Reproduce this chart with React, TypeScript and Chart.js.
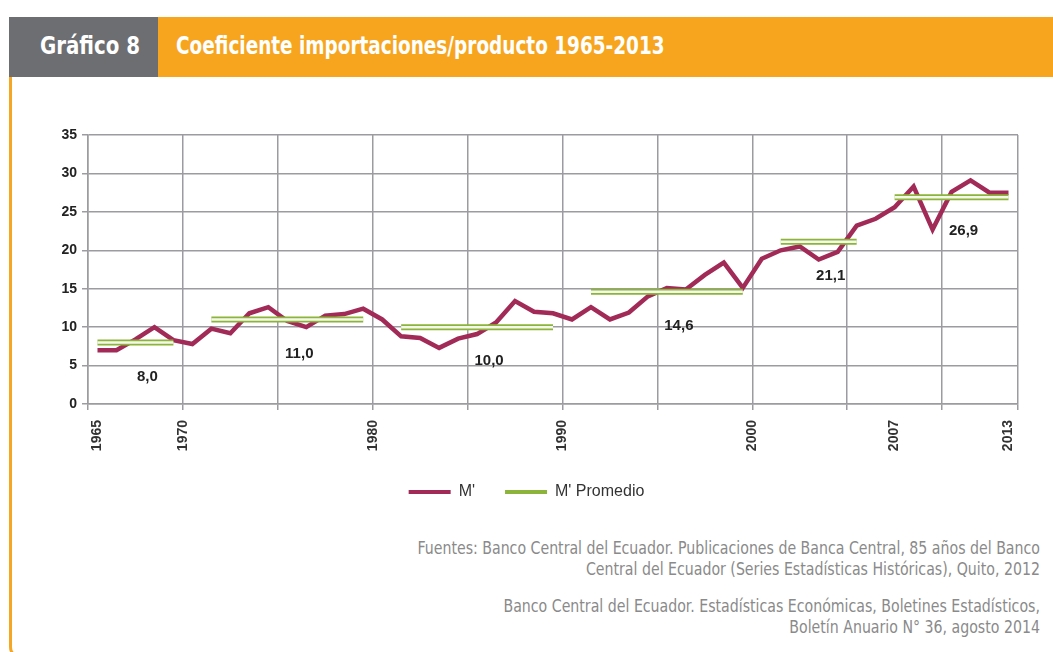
import React, { useEffect, useRef } from 'react';
import { Chart, registerables } from 'chart.js';

Chart.register(...registerables);

// ---- data ----
const years = [
  1965, 1966, 1967, 1968, 1969, 1970, 1971, 1972, 1973, 1974,
  1975, 1976, 1977, 1978, 1979, 1980, 1981, 1982, 1983, 1984,
  1985, 1986, 1987, 1988, 1989, 1990, 1991, 1992, 1993, 1994,
  1995, 1996, 1997, 1998, 1999, 2000, 2001, 2002, 2003, 2004,
  2005, 2006, 2007, 2008, 2009, 2010, 2011, 2012, 2013,
];
const mValues = [
  7.0, 7.0, 8.4, 10.0, 8.3, 7.8, 9.8, 9.2, 11.8, 12.6,
  10.8, 10.0, 11.5, 11.7, 12.4, 11.0, 8.8, 8.6, 7.3, 8.5,
  9.1, 10.6, 13.4, 12.0, 11.8, 11.0, 12.6, 11.0, 11.9, 14.0,
  15.1, 14.9, 16.8, 18.4, 15.1, 18.9, 20.0, 20.5, 18.8, 19.8,
  23.2, 24.1, 25.6, 28.3, 22.7, 27.6, 29.1, 27.5, 27.5,
];
const avgStart = [1965, 1971, 1981, 1991, 2001, 2007];
const avgEnd = [1969, 1979, 1989, 1999, 2005, 2013];
const avgValues = [8.0, 11.0, 10.0, 14.6, 21.1, 26.9];
const xLabelYears = [1965, 1970, 1980, 1990, 2000, 2007, 2013];
const yMin = 0;
const yMax = 35;
const yStep = 5;

const MAROON = '#a12a57';
const GREEN = '#8cb43a';
const GRID = '#9c9ca0';
const SANS = '"Liberation Sans", Arial, Helvetica, sans-serif';
const NARROW = '"Liberation Sans Narrow", "Arial Narrow", "DejaVu Sans Condensed", sans-serif';

const firstYear = years[0];
const lastYear = years[years.length - 1];
const gridBounds = years
  .filter((_, i) => i % 5 === 0)
  .map((y) => y - 0.5)
  .concat([lastYear + 0.5]);
const labelPos = xLabelYears.map((y) =>
  (y - firstYear) % 5 === 0 && y !== firstYear ? y - 0.5 : y
);

function buildAvgPoints() {
  const pts: { x: number; y: number | null }[] = [];
  avgValues.forEach((v, i) => {
    pts.push({ x: avgStart[i], y: v });
    pts.push({ x: avgEnd[i], y: v });
    if (i < avgValues.length - 1) {
      pts.push({ x: (avgEnd[i] + avgStart[i + 1]) / 2, y: null });
    }
  });
  return pts;
}

const avgLabelPlugin = {
  id: 'avgLabels',
  afterDatasetsDraw(chart: any) {
    const { ctx, scales } = chart;
    const xs = scales.x;
    const ys = scales.y;
    ctx.save();
    ctx.font = 'bold 15px ' + SANS;
    ctx.fillStyle = '#222222';
    ctx.textAlign = 'center';
    ctx.textBaseline = 'middle';
    avgValues.forEach((v, i) => {
      const px = (xs.getPixelForValue(avgStart[i]) + xs.getPixelForValue(avgEnd[i])) / 2 + 12;
      const py = ys.getPixelForValue(v) + 34;
      ctx.fillText(v.toFixed(1).replace('.', ','), px, py);
    });
    ctx.restore();
  },
};

function ChartCanvas() {
  const ref = useRef<HTMLCanvasElement | null>(null);
  useEffect(() => {
    if (!ref.current) return;
    const avgPts = buildAvgPoints();
    const chart = new Chart(ref.current, {
      type: 'line',
      data: {
        datasets: [
          {
            label: "M'",
            data: years.map((y, i) => ({ x: y, y: mValues[i] })),
            borderColor: MAROON,
            backgroundColor: MAROON,
            borderWidth: 4.5,
            pointRadius: 0,
            tension: 0,
            order: 3,
            xAxisID: 'x',
          },
          {
            label: "M' Promedio",
            data: avgPts,
            borderColor: GREEN,
            backgroundColor: GREEN,
            borderWidth: 6,
            pointRadius: 0,
            spanGaps: false,
            order: 2,
            xAxisID: 'x',
          },
          {
            label: 'inner',
            data: avgPts,
            borderColor: 'rgba(255,255,255,0.9)',
            backgroundColor: 'rgba(255,255,255,0.9)',
            borderWidth: 2.5,
            pointRadius: 0,
            spanGaps: false,
            order: 1,
            xAxisID: 'x',
          },
        ],
      },
      options: {
        responsive: false,
        animation: false,
        events: [],
        layout: { padding: { left: 35, right: 35, top: 25, bottom: 0 } },
        plugins: {
          tooltip: { enabled: false },
          title: { display: false },
          legend: {
            display: true,
            position: 'bottom',
            labels: {
              usePointStyle: true,
              pointStyleWidth: 42,
              padding: 30,
              color: '#333333',
              font: { family: SANS, size: 16 },
              filter: (item: any) => item.text !== 'inner',
              sort: (a: any, b: any) => a.datasetIndex - b.datasetIndex,
              generateLabels: (chart: any) =>
                Chart.defaults.plugins.legend.labels
                  .generateLabels(chart)
                  .map((l: any) => ({ ...l, pointStyle: 'line', lineWidth: 4 })),
            },
          },
        },
        scales: {
          x: {
            type: 'linear',
            position: 'bottom',
            min: firstYear - 0.5,
            max: lastYear + 0.5,
            afterBuildTicks: (s: any) => {
              s.ticks = gridBounds.map((v) => ({ value: v }));
            },
            afterFit: (s: any) => {
              s.height = 6;
            },
            ticks: { display: false },
            grid: { color: GRID, lineWidth: 1.5, tickLength: 6, drawTicks: true },
            border: { color: GRID, width: 1.5 },
          },
          xl: {
            type: 'linear',
            position: 'bottom',
            min: firstYear - 0.5,
            max: lastYear + 0.5,
            afterBuildTicks: (s: any) => {
              s.ticks = labelPos.map((v) => ({ value: v }));
            },
            afterFit: (s: any) => {
              s.height = 44;
            },
            ticks: {
              autoSkip: false,
              maxRotation: 90,
              minRotation: 90,
              padding: 10,
              color: '#333333',
              font: { family: SANS, size: 14, weight: 'bold' },
              callback: (v: any) => {
                const idx = labelPos.indexOf(v);
                return idx >= 0 ? String(xLabelYears[idx]) : '';
              },
            },
            grid: { display: false, drawTicks: false },
            border: { display: false },
          },
          y: {
            min: yMin,
            max: yMax,
            afterFit: (s: any) => {
              s.width = 53;
            },
            ticks: {
              stepSize: yStep,
              padding: 5,
              color: '#222222',
              font: { family: SANS, size: 14, weight: 'bold' },
            },
            grid: { color: GRID, lineWidth: 1.5, tickLength: 6 },
            border: { color: GRID, width: 1.5 },
          },
        },
      },
      plugins: [avgLabelPlugin],
    } as any);
    return () => chart.destroy();
  }, []);
  return <canvas ref={ref} width={1053} height={400} style={{ display: 'block' }} />;
}

const headText: React.CSSProperties = {
  position: 'absolute',
  top: 17,
  height: 60,
  lineHeight: '58px',
  color: '#ffffff',
  fontFamily: NARROW,
  fontWeight: 'bold',
  fontSize: 25,
  whiteSpace: 'nowrap',
  transformOrigin: 'left center',
};

const footText: React.CSSProperties = {
  position: 'absolute',
  right: 13,
  textAlign: 'right',
  color: '#8a8a8a',
  fontFamily: NARROW,
  fontSize: 17,
  lineHeight: '21px',
  whiteSpace: 'nowrap',
  transform: 'scaleX(0.925)',
  transformOrigin: 'right center',
};

export default function App() {
  return (
    <div
      style={{
        position: 'absolute',
        left: 0,
        top: 0,
        width: 1053,
        height: 652,
        background: '#ffffff',
        overflow: 'hidden',
      }}
    >
      <div
        style={{
          position: 'absolute',
          left: 9,
          top: 77,
          width: 1100,
          height: 582,
          borderLeft: '3px solid #f5a623',
          borderBottom: '3px solid #f5a623',
          borderBottomLeftRadius: 12,
          boxSizing: 'border-box',
        }}
      />
      <div
        style={{
          position: 'absolute',
          left: 9,
          top: 17,
          width: 149,
          height: 60,
          background: '#6d6e71',
        }}
      />
      <div
        style={{
          position: 'absolute',
          left: 158,
          top: 17,
          width: 895,
          height: 60,
          background: '#f7a51e',
        }}
      />
      <div style={{ ...headText, left: 40, transform: 'scaleX(0.88)' }}>Gráfico 8</div>
      <div style={{ ...headText, left: 176, transform: 'scaleX(0.82)' }}>
        Coeficiente importaciones/producto 1965-2013
      </div>
      <div style={{ position: 'absolute', left: 0, top: 110, width: 1053, height: 400 }}>
        <ChartCanvas />
      </div>
      <div style={{ ...footText, top: 538 }}>
        Fuentes: Banco Central del Ecuador. Publicaciones de Banca Central, 85 años del Banco
        <br />
        Central del Ecuador (Series Estadísticas Históricas), Quito, 2012
      </div>
      <div style={{ ...footText, top: 596 }}>
        Banco Central del Ecuador. Estadísticas Económicas, Boletines Estadísticos,
        <br />
        Boletín Anuario N° 36, agosto 2014
      </div>
    </div>
  );
}
